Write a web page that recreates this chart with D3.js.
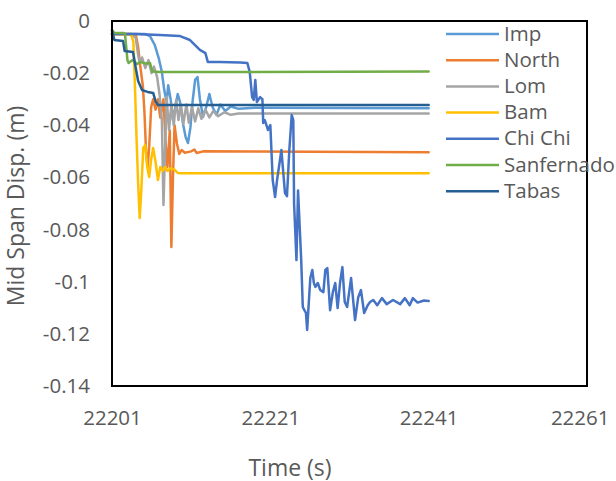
<!DOCTYPE html>
<html>
<head>
<meta charset="utf-8">
<script src="https://cdn.jsdelivr.net/npm/d3@7"></script>
<style>
  html, body { margin: 0; padding: 0; background: #fff; }
  svg { display: block; }
</style>
</head>
<body>
<svg id="chart" width="616" height="481"></svg>
<script>
// Mid-span displacement histories, [time (s), displacement (m)]
const imp = [
  [22201.0,-0.0050],[22205.2,-0.0050],[22205.8,-0.0058],[22206.4,-0.0092],[22206.9,-0.0142],
  [22207.3,-0.0196],[22207.6,-0.0265],[22207.9,-0.0311],[22208.1,-0.0246],[22208.4,-0.0299],
  [22208.7,-0.0380],[22209.0,-0.0330],[22209.3,-0.0280],[22209.6,-0.0311],[22210.0,-0.0399],
  [22210.3,-0.0445],[22210.6,-0.0468],[22210.9,-0.0410],[22211.2,-0.0303],[22211.5,-0.0226],
  [22211.8,-0.0215],[22212.1,-0.0299],[22212.5,-0.0368],[22212.9,-0.0330],[22213.3,-0.0280],
  [22213.7,-0.0330],[22214.2,-0.0360],[22214.7,-0.0320],[22215.3,-0.0345],[22216.0,-0.0328],
  [22217.0,-0.0337],[22219.0,-0.0333],[22241.0,-0.0335]
];
const north = [
  [22201.0,-0.0050],[22204.0,-0.0052],[22204.3,-0.0100],[22204.6,-0.0180],[22204.9,-0.0250],
  [22205.1,-0.0350],[22205.3,-0.0500],[22205.5,-0.0560],[22205.7,-0.0480],[22205.95,-0.0330],
  [22206.2,-0.0300],[22206.5,-0.0340],[22206.8,-0.0300],[22207.1,-0.0370],[22207.5,-0.0300],
  [22207.8,-0.0480],[22208.0,-0.0560],[22208.3,-0.0420],[22208.5,-0.0867],[22208.7,-0.0600],
  [22208.9,-0.0400],[22209.2,-0.0470],[22209.5,-0.0510],[22209.8,-0.0495],[22210.2,-0.0505],
  [22211.0,-0.0500],[22211.4,-0.0493],[22211.7,-0.0506],[22212.5,-0.0500],[22241.0,-0.0503]
];
const lom = [
  [22201.0,-0.0050],[22203.5,-0.0050],[22204.0,-0.0065],[22204.3,-0.0130],[22204.5,-0.0160],
  [22204.8,-0.0140],[22205.2,-0.0180],[22205.6,-0.0150],[22206.0,-0.0200],[22206.3,-0.0175],
  [22206.7,-0.0215],[22207.0,-0.0280],[22207.3,-0.0380],[22207.5,-0.0706],[22207.7,-0.0500],
  [22207.9,-0.0290],[22208.2,-0.0418],[22208.5,-0.0320],[22208.8,-0.0400],[22209.1,-0.0303],
  [22209.4,-0.0380],[22209.7,-0.0320],[22210.0,-0.0395],[22210.4,-0.0320],[22210.7,-0.0390],
  [22211.1,-0.0330],[22211.5,-0.0385],[22211.9,-0.0335],[22212.3,-0.0375],[22212.8,-0.0340],
  [22213.3,-0.0370],[22213.8,-0.0345],[22214.4,-0.0365],[22215.2,-0.0350],[22216.0,-0.0360],
  [22217.0,-0.0355],[22241.0,-0.0355]
];
const bam = [
  [22201.0,-0.0050],[22203.4,-0.0050],[22203.7,-0.0080],[22203.9,-0.0250],[22204.1,-0.0450],
  [22204.3,-0.0620],[22204.5,-0.0756],[22204.7,-0.0650],[22204.95,-0.0487],[22205.2,-0.0475],
  [22205.45,-0.0560],[22205.7,-0.0598],[22205.95,-0.0530],[22206.2,-0.0487],[22206.5,-0.0540],
  [22206.8,-0.0610],[22207.1,-0.0560],[22207.4,-0.0575],[22207.7,-0.0560],[22208.0,-0.0575],
  [22208.4,-0.0565],[22208.9,-0.0570],[22209.3,-0.0583],[22209.6,-0.0584],[22241.0,-0.0584]
];
const chiChi = [
  [22201.0,-0.0050],[22204.0,-0.0050],[22207.0,-0.0054],[22209.6,-0.0058],[22210.85,-0.0073],
  [22212.1,-0.0111],[22212.8,-0.0123],[22213.1,-0.0157],[22214.6,-0.0157],[22217.2,-0.0159],
  [22218.1,-0.0161],[22218.4,-0.0196],[22218.7,-0.0292],[22218.9,-0.0303],[22219.1,-0.0226],
  [22219.3,-0.0311],[22219.7,-0.0292],[22220.0,-0.0300],[22220.1,-0.0391],[22220.3,-0.0380],
  [22220.7,-0.0418],[22221.0,-0.0399],[22221.3,-0.0610],[22221.6,-0.0675],[22221.85,-0.0610],
  [22222.4,-0.0495],[22222.85,-0.0660],[22223.1,-0.0672],[22223.4,-0.0495],[22223.7,-0.0361],
  [22223.9,-0.0380],[22224.0,-0.0700],[22224.3,-0.0917],[22224.5,-0.0650],[22224.9,-0.0917],
  [22225.1,-0.1097],[22225.3,-0.1109],[22225.5,-0.1120],[22225.65,-0.1185],[22225.8,-0.1109],
  [22226.05,-0.0986],[22226.3,-0.0955],[22226.5,-0.1005],[22226.7,-0.1020],[22227.0,-0.1005],
  [22227.3,-0.1032],[22227.7,-0.1040],[22227.95,-0.0955],[22228.2,-0.0948],[22228.55,-0.1109],
  [22228.9,-0.1040],[22229.2,-0.1005],[22229.5,-0.1101],[22229.8,-0.1005],[22230.1,-0.0944],
  [22230.4,-0.1078],[22230.7,-0.1097],[22231.2,-0.0986],[22231.7,-0.1147],[22232.1,-0.1060],
  [22232.45,-0.1032],[22232.85,-0.1120],[22233.3,-0.1090],[22233.6,-0.1078],[22234.0,-0.1070],
  [22234.5,-0.1090],[22235.1,-0.1063],[22235.7,-0.1086],[22236.5,-0.1070],[22237.4,-0.1086],
  [22238.0,-0.1063],[22238.6,-0.1090],[22239.0,-0.1063],[22239.6,-0.1080],[22240.4,-0.1072],
  [22241.0,-0.1074]
];
const sanfernado = [
  [22201.0,-0.0035],[22201.3,-0.0046],[22202.5,-0.0046],[22202.64,-0.0050],[22202.8,-0.0100],
  [22202.95,-0.0150],[22203.1,-0.0161],[22203.6,-0.0150],[22204.2,-0.0165],[22204.6,-0.0157],
  [22205.2,-0.0163],[22205.8,-0.0161],[22206.1,-0.0194],[22207.0,-0.0196],[22241.0,-0.0194]
];
const tabas = [
  [22201.0,-0.0035],[22201.3,-0.0073],[22202.4,-0.0077],[22202.6,-0.0115],[22203.65,-0.0119],
  [22204.0,-0.0180],[22204.3,-0.0230],[22204.8,-0.0265],[22205.5,-0.0272],[22206.2,-0.0276],
  [22206.5,-0.0307],[22206.8,-0.0322],[22241.0,-0.0322]
];

const seriesNames  = ["Imp", "North", "Lom", "Bam", "Chi Chi", "Sanfernado", "Tabas"];
const seriesValues = [imp, north, lom, bam, chiChi, sanfernado, tabas];
const seriesColors = ["#5B9BD5", "#ED7D31", "#A5A5A5", "#FFC000", "#4472C4", "#70AD47", "#255E91"];

const xTicks = [22201, 22221, 22241, 22261];
const yTicks = [0, -0.02, -0.04, -0.06, -0.08, -0.1, -0.12, -0.14];
const xTitle = "Time (s)";
const yTitle = "Mid Span Disp. (m)";

// Layout
const plot = { left: 112, top: 21, right: 587, bottom: 386 };
const textColor = "#595959";
const font = "'Open Sans', sans-serif";

const svg = d3.select("#chart");

const x = d3.scaleLinear().domain([xTicks[0], xTicks[xTicks.length - 1]]).range([plot.left, plot.right]);
const y = d3.scaleLinear().domain([yTicks[0], yTicks[yTicks.length - 1]]).range([plot.top, plot.bottom]);

// Series
const line = d3.line().x(d => x(d[0])).y(d => y(d[1]));
const gSeries = svg.append("g");
seriesValues.forEach((vals, i) => {
  gSeries.append("path")
    .datum(vals)
    .attr("d", line)
    .attr("fill", "none")
    .attr("stroke", seriesColors[i])
    .attr("stroke-width", 2.5)
    .attr("stroke-linejoin", "round")
    .attr("stroke-linecap", "round");
});

// Plot frame
svg.append("rect")
  .attr("x", plot.left).attr("y", plot.top)
  .attr("width", plot.right - plot.left).attr("height", plot.bottom - plot.top)
  .attr("fill", "none").attr("stroke", "#000").attr("stroke-width", 2);

// Axes
const fmtY = d => d === 0 ? "0" : String(+d.toFixed(2));
const gy = svg.append("g")
  .attr("transform", `translate(${plot.left},0)`)
  .call(d3.axisLeft(y).tickValues(yTicks).tickSize(0).tickPadding(22).tickFormat(fmtY));
const gx = svg.append("g")
  .attr("transform", `translate(0,${plot.bottom})`)
  .call(d3.axisBottom(x).tickValues(xTicks).tickSize(0).tickPadding(24).tickFormat(d3.format("d")));

[gx, gy].forEach(g => {
  g.select(".domain").remove();
  g.attr("font-family", font).attr("font-size", 20.5);
  g.selectAll("text").attr("fill", textColor);
});
// keep the last time label inside the chart area
gx.selectAll(".tick").filter((d, i, n) => i === n.length - 1)
  .select("text").attr("text-anchor", "end").attr("x", 22);

// Axis titles
svg.append("text")
  .attr("x", 290).attr("y", 475.5)
  .attr("text-anchor", "middle")
  .attr("font-family", font).attr("font-size", 23)
  .attr("fill", textColor)
  .text(xTitle);
svg.append("text")
  .attr("transform", "translate(23.5,206) rotate(-90)")
  .attr("text-anchor", "middle")
  .attr("font-family", font).attr("font-size", 23)
  .attr("fill", textColor)
  .text(yTitle);

// Legend
const legend = svg.append("g");
seriesNames.forEach((name, i) => {
  const ly = 34 + i * 26.2;
  legend.append("line")
    .attr("x1", 446).attr("x2", 499).attr("y1", ly).attr("y2", ly)
    .attr("stroke", seriesColors[i]).attr("stroke-width", 2.5);
  legend.append("text")
    .attr("x", 504).attr("y", ly + 6.5)
    .attr("font-family", font).attr("font-size", 20.5)
    .attr("fill", textColor)
    .text(name);
});
</script>
</body>
</html>
